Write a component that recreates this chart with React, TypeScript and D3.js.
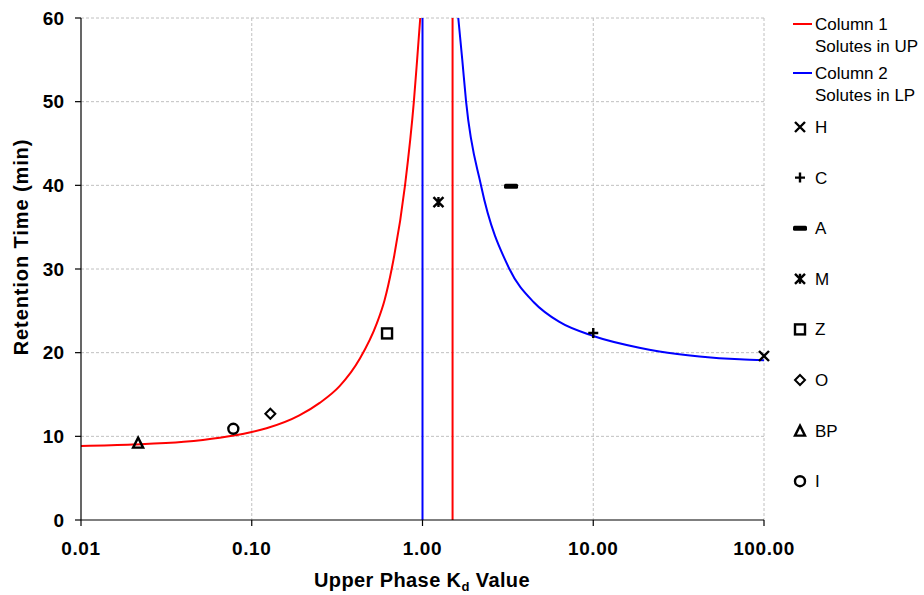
import React from "react";
import * as d3 from "d3";

const redK = [0.01, 0.02, 0.04, 0.065, 0.097, 0.122, 0.19, 0.25, 0.327, 0.43, 0.54, 0.6, 0.66, 0.79, 0.89, 0.93, 0.97];
const redT = [8.84, 9.02, 9.35, 9.84, 10.45, 10.96, 12.5, 14.0, 16.0, 19.3, 23.5, 26.3, 30, 40, 50, 55, 60];

const blueK = [1.62, 1.71, 1.8, 2.2, 3.23, 4.5, 6.3, 10, 18.6, 24.4, 41.9, 72, 100];
const blueT = [60, 55, 50, 40, 30, 26.0, 23.7, 22.0, 20.6, 20.15, 19.55, 19.2, 19.1];

const redVerticalK = 1.5;
const blueVerticalK = 1.0;

const soluteNames = ["H", "C", "A", "M", "Z", "O", "BP", "I"];
const soluteK = [100, 10, 3.3, 1.24, 0.62, 0.1285, 0.0216, 0.078];
const soluteT = [19.6, 22.35, 39.9, 38.0, 22.3, 12.7, 9.25, 10.9];
const soluteShape = ["x", "plus", "dash", "star", "square", "diamond", "triangle", "circle"];

const xTicks = [0.01, 0.1, 1, 10, 100];
const xTickLabels = ["0.01", "0.10", "1.00", "10.00", "100.00"];
const yTicks = [0, 10, 20, 30, 40, 50, 60];

const seriesNames = [["Column 1", "Solutes in UP"], ["Column 2", "Solutes in LP"]];
const seriesColors = ["#ff0000", "#0000ff"];

function Marker({ shape, x, y }: { shape: string; x: number; y: number }) {
  const s = 5;
  const common = { stroke: "#000", strokeWidth: 2.4, fill: "none" };
  switch (shape) {
    case "x":
      return <path d={`M${x - s},${y - s}L${x + s},${y + s}M${x - s},${y + s}L${x + s},${y - s}`} {...common} />;
    case "plus":
      return <path d={`M${x - s},${y}L${x + s},${y}M${x},${y - s}L${x},${y + s}`} {...common} />;
    case "dash":
      return <rect x={x - 7} y={y - 2.5} width={14} height={5} rx={1.5} fill="#000" />;
    case "star":
      return <path d={`M${x - s},${y - s}L${x + s},${y + s}M${x - s},${y + s}L${x + s},${y - s}M${x},${y - s}L${x},${y + s}`} {...common} />;
    case "square":
      return <rect x={x - 5} y={y - 5} width={10} height={10} {...common} />;
    case "diamond":
      return <path d={`M${x},${y - 5}L${x + 5},${y}L${x},${y + 5}L${x - 5},${y}Z`} {...common} strokeWidth={2} />;
    case "triangle":
      return <path d={`M${x},${y - 5}L${x + 5},${y + 5}L${x - 5},${y + 5}Z`} {...common} />;
    case "circle":
      return <circle cx={x} cy={y} r={5} {...common} />;
  }
  return null;
}

export default function App() {
  const W = 924, H = 595;
  const left = 81, right = 764, top = 18, bottom = 520;
  const x = d3.scaleLog().domain([0.01, 100]).range([left, right]);
  const y = d3.scaleLinear().domain([0, 60]).range([bottom, top]);

  const line = d3.line<[number, number]>().x(d => x(d[0])).y(d => y(d[1])).curve(d3.curveMonotoneX);
  const redPts: [number, number][] = redK.map((k, i) => [k, redT[i]]);
  const bluePts: [number, number][] = blueK.map((k, i) => [k, blueT[i]]);

  const font = "Liberation Sans, Arial, sans-serif";

  return (
    <svg width={W} height={H} style={{ position: "absolute", left: 0, top: 0 }} fontFamily={font}>
      <rect width={W} height={H} fill="#fff" />
      {/* grid */}
      {yTicks.filter(t => t > 0).map(t => (
        <line key={"gy" + t} x1={left} x2={right} y1={y(t)} y2={y(t)} stroke="#c0c0c0" strokeDasharray="3,2" strokeWidth={1} />
      ))}
      {xTicks.filter(t => t > 0.01).map(t => (
        <line key={"gx" + t} x1={x(t)} x2={x(t)} y1={top} y2={bottom} stroke="#c0c0c0" strokeDasharray="3,2" strokeWidth={1} />
      ))}
      {/* curves */}
      <path d={line(redPts) || ""} fill="none" stroke={seriesColors[0]} strokeWidth={2} />
      <path d={line(bluePts) || ""} fill="none" stroke={seriesColors[1]} strokeWidth={2} />
      <line x1={x(blueVerticalK)} x2={x(blueVerticalK)} y1={top} y2={bottom} stroke={seriesColors[1]} strokeWidth={2} />
      <line x1={x(redVerticalK)} x2={x(redVerticalK)} y1={top} y2={bottom} stroke={seriesColors[0]} strokeWidth={2} />
      {/* axes */}
      <line x1={left} x2={left} y1={top} y2={bottom} stroke="#000" strokeWidth={1.2} />
      <line x1={left} x2={right} y1={bottom} y2={bottom} stroke="#000" strokeWidth={1.2} />
      {yTicks.map(t => (
        <g key={"yt" + t}>
          <line x1={left - 6} x2={left} y1={y(t)} y2={y(t)} stroke="#000" strokeWidth={1.2} />
          <text x={left - 17} y={y(t)} dy="0.35em" textAnchor="end" fontWeight="bold" fontSize={19}>{t}</text>
        </g>
      ))}
      {xTicks.map((t, i) => (
        <g key={"xt" + t}>
          <line x1={x(t)} x2={x(t)} y1={bottom} y2={bottom + 6} stroke="#000" strokeWidth={1.2} />
          <text x={x(t)} y={548} dy="0.35em" textAnchor="middle" fontWeight="bold" fontSize={19} letterSpacing={0.6}>{xTickLabels[i]}</text>
        </g>
      ))}
      {/* markers */}
      {soluteNames.map((n, i) => (
        <Marker key={"m" + n} shape={soluteShape[i]} x={x(soluteK[i])} y={y(soluteT[i])} />
      ))}
      {/* axis titles */}
      <text x={422} y={580} dy="0.35em" textAnchor="middle" fontWeight="bold" fontSize={20} letterSpacing={0.4}>
        Upper Phase K<tspan fontSize={13} dy="4">d</tspan><tspan dy="-4"> Value</tspan>
      </text>
      <text transform={`translate(21,247) rotate(-90)`} dy="0.35em" textAnchor="middle" fontWeight="bold" fontSize={20} letterSpacing={0.9}>
        Retention Time (min)
      </text>
      {/* legend */}
      {seriesNames.map((nm, i) => (
        <g key={"ls" + i}>
          <line x1={793} x2={812} y1={24 + i * 49} y2={24 + i * 49} stroke={seriesColors[i]} strokeWidth={2} />
          <text x={815} y={24 + i * 49} dy="0.35em" fontSize={17}>{nm[0]}</text>
          <text x={815} y={46 + i * 49} dy="0.35em" fontSize={17}>{nm[1]}</text>
        </g>
      ))}
      {soluteNames.map((n, i) => (
        <g key={"lm" + n}>
          <Marker shape={soluteShape[i]} x={800} y={127 + i * 50.6} />
          <text x={815} y={127 + i * 50.6} dy="0.35em" fontSize={17}>{n}</text>
        </g>
      ))}
    </svg>
  );
}
